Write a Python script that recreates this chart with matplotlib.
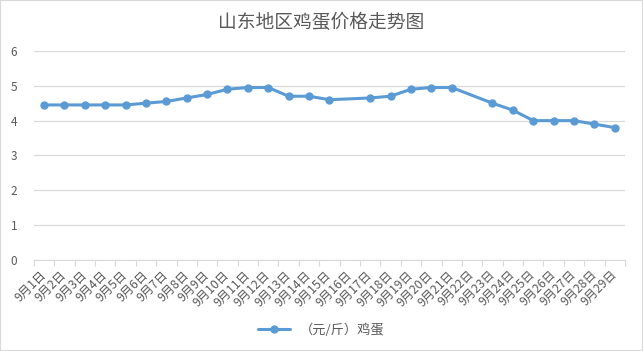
import matplotlib.pyplot as plt
import numpy as np
from matplotlib.patches import Rectangle

plt.rcParams['font.family'] = ['Noto Sans CJK SC', 'DejaVu Sans']

dates = ['9月%d日' % d for d in range(1, 30)]
prices = [4.45, 4.45, 4.45, 4.45, 4.45, 4.5, 4.55, 4.65, 4.75, 4.9,
          4.95, 4.95, 4.7, 4.7, 4.6, np.nan, 4.65, 4.7, 4.9, 4.95,
          4.95, np.nan, 4.5, 4.3, 4.0, 4.0, 4.0, 3.9, 3.8]
y_ticks = [0, 1, 2, 3, 4, 5, 6]

grey = '#595959'
blue = '#5B9BD5'

fig = plt.figure(figsize=(6.43, 3.51), dpi=100)
ax = fig.add_axes([0.0526, 0.259, 0.9194, 0.596])

# gaps are skipped, line joins the neighbouring points
x = np.arange(len(dates))
vals = np.array(prices)
ok = ~np.isnan(vals)
ax.plot(x[ok], vals[ok], color=blue, lw=2.2, marker='o', markersize=5,
        label='（元/斤）鸡蛋', solid_capstyle='round')

ax.set_xlim(-0.5, len(dates) - 0.5)
ax.set_ylim(0, 6)
ax.set_yticks(y_ticks)
ax.set_xticks(np.arange(len(dates) + 1) - 0.5, minor=False)
ax.set_xticklabels([])
ax.set_xticks(x, minor=True)
ax.set_xticklabels(dates, minor=True, rotation=45, ha='right', va='center',
                   rotation_mode='anchor', fontsize=8.8, color=grey)
ax.tick_params(axis='x', which='major', length=4, color='#d9d9d9', direction='out')
ax.tick_params(axis='x', which='minor', length=0, pad=9)
ax.tick_params(axis='y', length=0, labelsize=8.5, labelcolor=grey, pad=12)

ax.grid(axis='y', color='#d9d9d9', lw=0.9)
ax.set_axisbelow(True)
for s in ['top', 'right', 'left']:
    ax.spines[s].set_visible(False)
ax.spines['bottom'].set_color('#d9d9d9')
ax.spines['bottom'].set_zorder(1)

fig.text(0.5, 0.935, '山东地区鸡蛋价格走势图', ha='center', va='center',
         fontsize=13.5, color=grey)

fig.legend(loc='center', bbox_to_anchor=(0.5, 0.06), frameon=False,
           fontsize=9.5, labelcolor=grey, handlelength=2.4)

fig.patches.append(Rectangle((0, 0), 1, 1, transform=fig.transFigure,
                             fill=False, edgecolor='#d9d9d9', lw=1.5))

fig.savefig('out.png', dpi=100)
